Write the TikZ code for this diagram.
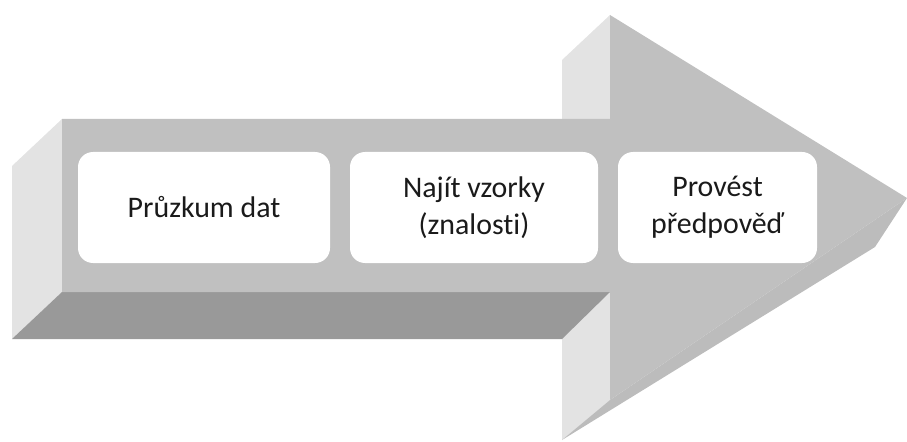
\documentclass[tikz,border=0pt]{standalone}
\usepackage{fontspec}
\setmainfont{Carlito}[Ligatures=NoCommon]
\usepackage{tikz}
\usetikzlibrary{positioning}
\definecolor{facegray}{HTML}{C0C0C0}
\definecolor{sidegray}{HTML}{E3E3E3}
\definecolor{shadegray}{HTML}{999999}
\definecolor{bevelgray}{HTML}{BCBCBC}
\definecolor{inkgray}{HTML}{1A1A1A}

\begin{document}
\begin{tikzpicture}
		\tikzstyle{stepbox} = [draw=none, fill=white, rounded corners=0.3cm, minimum height=2.22cm, text=inkgray, align=center, font=\fontsize{17}{21}\selectfont]
		\tikzstyle{side} = [fill=sidegray]
		\useasboundingbox (0,0) rectangle (18.14,-8.84);
		% side faces of the head
		\fill [side] (11.24,-1.2) -- (12.2,-0.3) -- (12.2,-8.0) -- (11.24,-8.8) -- cycle;
		\fill [bevelgray] (12.2,-8.0) -- (18.14,-3.96) -- (17.5,-4.94) -- (11.24,-8.8) -- cycle;
		% side faces of the shaft
		\fill [side] (0.24,-3.32) -- (1.24,-2.38) -- (1.24,-5.84) -- (0.24,-6.78) -- cycle;
		\fill [shadegray] (1.24,-5.84) -- (12.2,-5.84) -- (11.24,-6.78) -- (0.24,-6.78) -- cycle;
		% front face
		\fill [facegray] (1.24,-2.38) -- (12.2,-2.38) -- (12.2,-0.3) -- (18.14,-3.96) -- (12.2,-8.0) -- (12.2,-5.84) -- (1.24,-5.84) -- cycle;
		\node [stepbox, minimum width=5.04cm] (explore) at (4.08,-4.15) {Průzkum dat};
		\node [stepbox, minimum width=4.96cm] (patterns) at (9.48,-4.15) {Najít vzorky\\(znalosti)};
		\node [stepbox, minimum width=3.98cm] (predict) at (14.35,-4.15) {Provést\\předpověď};
\end{tikzpicture}
\end{document}
